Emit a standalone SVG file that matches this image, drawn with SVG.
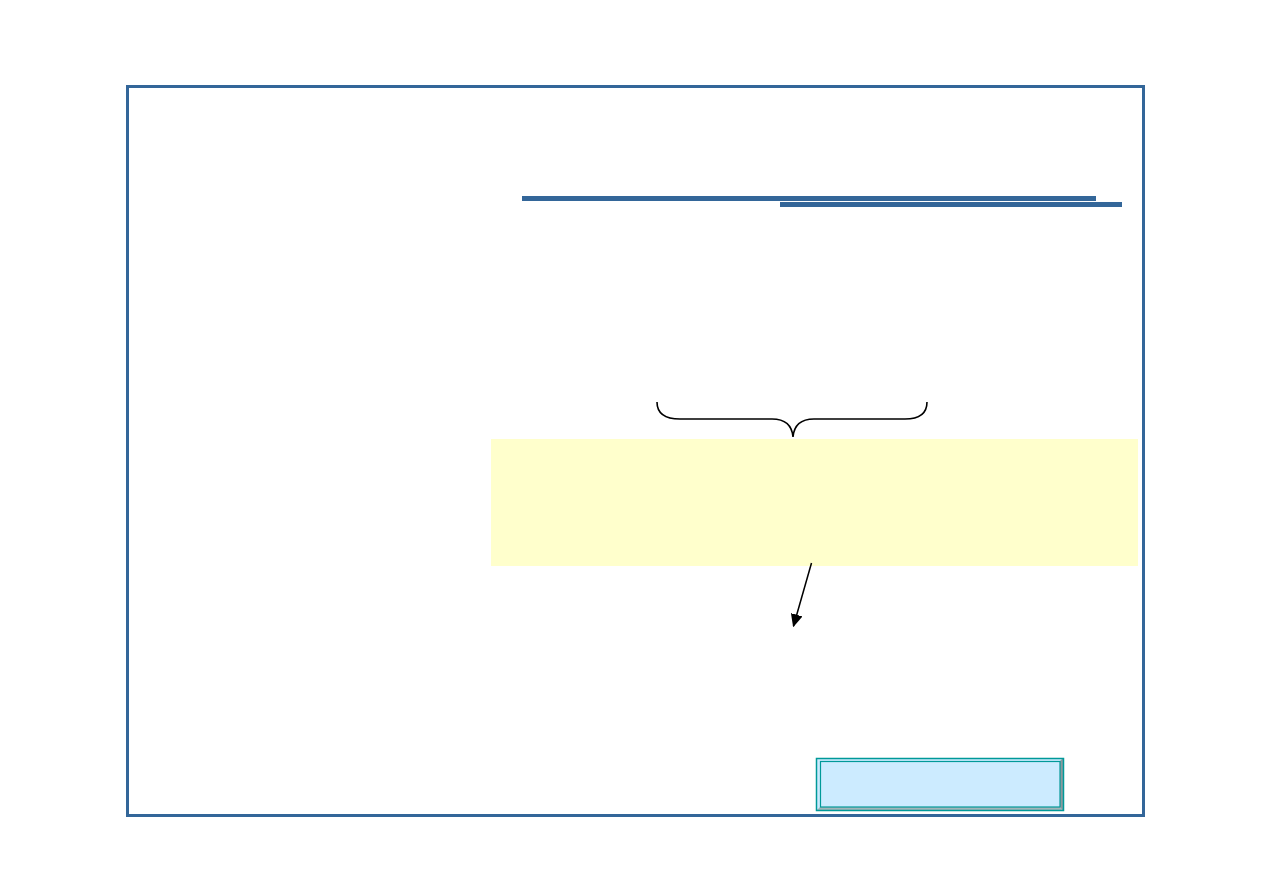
<svg xmlns="http://www.w3.org/2000/svg" width="1263" height="893" viewBox="0 0 1263 893">
<defs>
<style>
.frame{fill:none;stroke:#336699;stroke-width:3}
.rule{fill:#336699}
.brace{fill:none;stroke:#000;stroke-width:1.6}
.conn{stroke:#000;stroke-width:1.5;fill:none}
</style>
<marker id="ah" viewBox="0 0 10 10" refX="9" refY="5" markerWidth="13" markerHeight="12" markerUnits="userSpaceOnUse" orient="auto" preserveAspectRatio="none">
<path d="M0,0 L10,5 L0,10 Z" fill="#000"/>
</marker>
</defs>
<rect width="1263" height="893" fill="#fff"/>
<g id="frame">
<rect class="frame" x="127.5" y="86.5" width="1016" height="729"/>
</g>
<g id="title-rules">
<rect class="rule" x="522" y="196" width="574" height="5"/>
<rect class="rule" x="780" y="202" width="342" height="5"/>
</g>
<g id="brace">
<path class="brace" d="M657,402 C657,413 664,419 680,419 L772,419 C785,419 792,425 793,437 C794,425 801,419 814,419 L905,419 C920,419 927,413 927,402"/>
</g>
<g id="yellow-box">
<rect x="491" y="439" width="647" height="127" fill="#FFFFCC"/>
</g>
<g id="connectors">
<line class="conn" x1="811.5" y1="563" x2="793.5" y2="626" marker-end="url(#ah)"/>
</g>
<g id="blue-button">
<rect x="816" y="758" width="248" height="53" fill="#CCEBFF"/>
<polygon points="1060,761 1063,758 1063,811 1060,807" fill="#8A9A9E"/>
<polygon points="820,807 1060,807 1063,811 816,811" fill="#A3B5B9"/>
<rect x="816.5" y="758.5" width="247" height="52" fill="none" stroke="#009999" stroke-width="1.5"/>
<rect x="820.5" y="761.5" width="239.5" height="45.5" fill="none" stroke="#009999" stroke-width="1.2"/>
</g>
</svg>
